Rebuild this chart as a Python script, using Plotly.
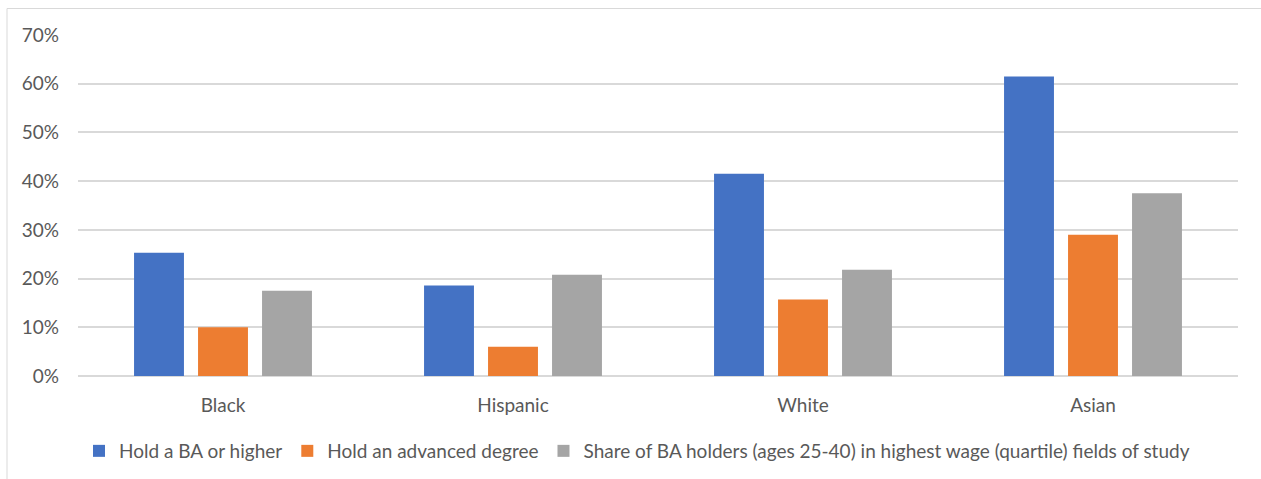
import plotly.graph_objects as go

categories = ["Black", "Hispanic", "White", "Asian"]
ba_or_higher = [0.253, 0.186, 0.415, 0.615]
advanced_degree = [0.100, 0.060, 0.157, 0.290]
high_wage_fields = [0.175, 0.208, 0.218, 0.375]
series_names = [
    "Hold a BA or higher",
    "Hold an advanced degree",
    "Share of BA holders (ages 25-40) in highest wage (quartile) fields of study",
]
colors = ["#4472C4", "#ED7D31", "#A5A5A5"]
tick_vals = [0, 0.1, 0.2, 0.3, 0.4, 0.5, 0.6, 0.7]
tick_text = ["0%", "10%", "20%", "30%", "40%", "50%", "60%", "70%"]

W, H = 1261, 479
ml, mr, mt, mb = 78, 23, 35, 103
pw, ph = W - ml - mr, H - mt - mb

fig = go.Figure()
for name, vals, c in zip(series_names, [ba_or_higher, advanced_degree, high_wage_fields], colors):
    fig.add_trace(go.Bar(x=categories, y=vals, name=name, marker=dict(color=c, line=dict(width=0))))

def px_x(p):
    return (p - ml) / pw

def px_y(p):
    return (H - mb - p) / ph

FONT = "Lato, Open Sans, sans-serif"
fig.update_layout(
    width=W, height=H,
    margin=dict(l=ml, r=mr, t=mt, b=mb, autoexpand=False),
    paper_bgcolor="white", plot_bgcolor="white",
    barmode="group", bargap=0.338, bargroupgap=0.22,
    font=dict(family=FONT, size=19, color="#595959"),
    xaxis=dict(showgrid=False, showline=False, ticks="", ticklabelstandoff=16, automargin=False,
               tickfont=dict(size=19, color="#595959")),
    yaxis=dict(range=[0, 0.7], tickvals=tick_vals, ticktext=tick_text, showgrid=True,
               gridcolor="#D9D9D9", gridwidth=1.5, zeroline=True, zerolinecolor="#D9D9D9",
               zerolinewidth=1.5, showline=False, ticks="", ticklabelstandoff=18, automargin=False,
               tickfont=dict(size=19, color="#595959")),
    legend=dict(orientation="h", x=px_x(637), xanchor="center", y=px_y(451), yanchor="middle",
                font=dict(size=19, color="#595959"), itemwidth=30, traceorder="normal"),
    shapes=[dict(type="rect", xref="paper", yref="paper",
                 x0=px_x(7), x1=px_x(1300), y0=px_y(520), y1=px_y(8.5),
                 line=dict(color="#D9D9D9", width=1), fillcolor="rgba(0,0,0,0)", layer="below")],
)
fig.write_html("out.html", config={"displayModeBar": False},
               post_script="document.body.style.margin='0';")
